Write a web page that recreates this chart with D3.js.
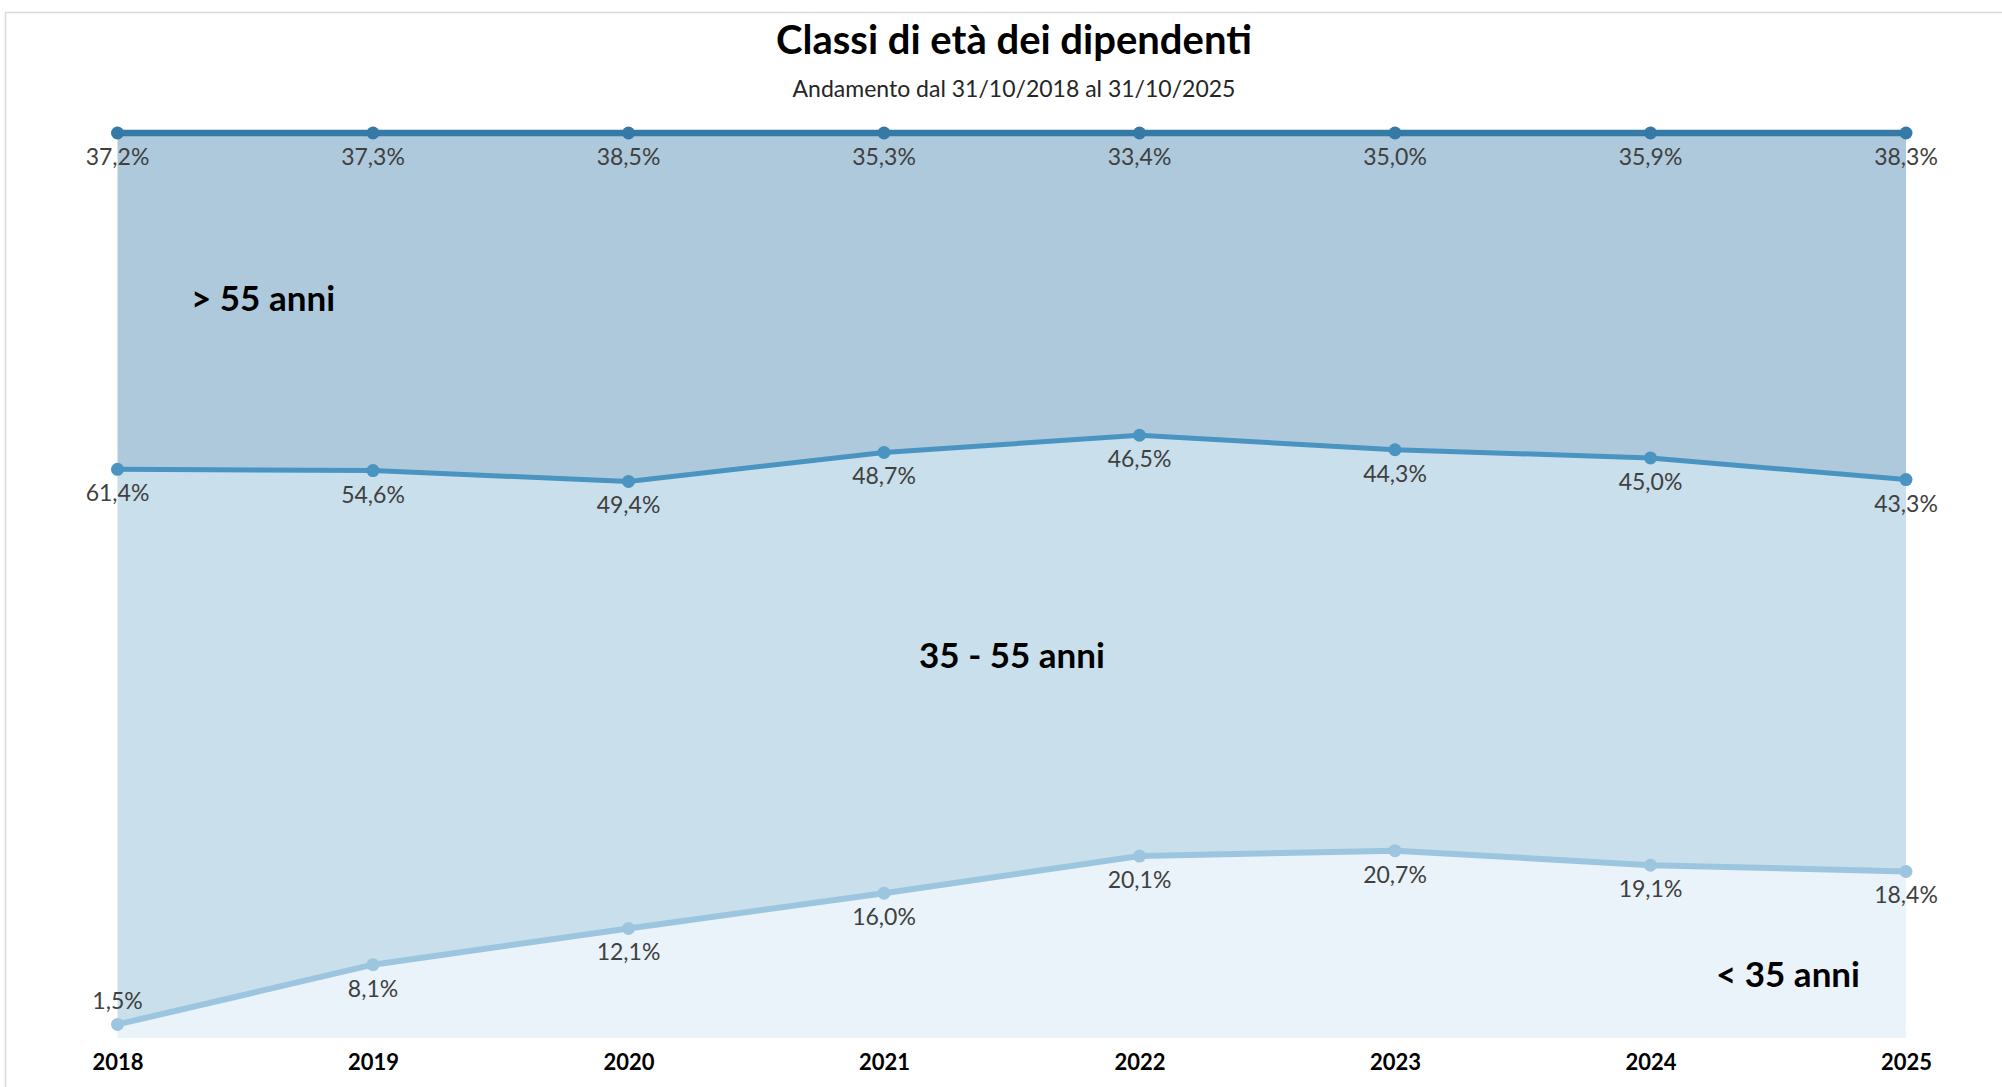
<!doctype html>
<html>
<head>
    <meta charset="UTF-8">
    <title>Classi di età dei dipendenti</title>
    <script src="https://d3js.org/d3.v7.min.js"></script>
    <style>
        body { margin: 0; background: #fff; }
        svg { display: block; font-family: Lato, "Open Sans", sans-serif; }
    </style>
</head>
<body>
<svg width="2002" height="1087"></svg>
<script>
    // dati (percentuali)
    var years = [2018, 2019, 2020, 2021, 2022, 2023, 2024, 2025];
    var under35 = [1.5, 8.1, 12.1, 16.0, 20.1, 20.7, 19.1, 18.4];
    var from35to55 = [61.4, 54.6, 49.4, 48.7, 46.5, 44.3, 45.0, 43.3];
    var over55 = [37.2, 37.3, 38.5, 35.3, 33.4, 35.0, 35.9, 38.3];
    var keys = ["under35", "from35to55", "over55"];
    var areaNames = ["< 35 anni", "35 - 55 anni", "> 55 anni"];

    var fills = { under35: "#eaf3f9", from35to55: "#c9dfeb", over55: "#aec9db" };
    var strokes = { under35: "#9cc6df", from35to55: "#4a94c1", over55: "#3579a6" };
    var widths = { under35: 6, from35to55: 5, over55: 6.5 };

    var rows = years.map(function (y, i) {
        return { year: y, under35: under35[i], from35to55: from35to55[i], over55: over55[i] };
    });

    var svg = d3.select("svg");

    // cornice
    svg.append("rect")
        .attr("x", 5.5).attr("y", 12.5)
        .attr("width", 2100).attr("height", 1200)
        .attr("fill", "none").attr("stroke", "#d9d9d9").attr("stroke-width", 1.5);

    var x = d3.scalePoint().domain(years).range([117.5, 1906]);
    var y = d3.scaleLinear().domain([0, 1]).range([1038, 133]);
    var bottom = y(0);

    // area in pila al 100%
    var stack = d3.stack().keys(keys).offset(d3.stackOffsetExpand);
    var series = stack(rows);

    var area = d3.area()
        .x(function (d) { return x(d.data.year); })
        .y0(function (d) { return y(d[0]); })
        .y1(function (d) { return y(d[1]); });

    var line = d3.line()
        .x(function (d) { return x(d.data.year); })
        .y(function (d) { return y(d[1]); });

    svg.append("g").selectAll("path")
        .data(series).enter().append("path")
        .attr("d", area)
        .attr("fill", function (s) { return fills[s.key]; });

    svg.append("g").selectAll("path")
        .data(series).enter().append("path")
        .attr("d", line)
        .attr("fill", "none")
        .attr("stroke", function (s) { return strokes[s.key]; })
        .attr("stroke-width", function (s) { return widths[s.key]; });

    var groups = svg.append("g").selectAll("g")
        .data(series).enter().append("g");

    groups.selectAll("circle")
        .data(function (s) { return s.map(function (d) { return { key: s.key, d: d }; }); })
        .enter().append("circle")
        .attr("cx", function (p) { return x(p.d.data.year); })
        .attr("cy", function (p) { return y(p.d[1]); })
        .attr("r", 6.5)
        .attr("fill", function (p) { return strokes[p.key]; });

    function fmt(v) {
        return v.toFixed(1).replace(".", ",") + "%";
    }

    groups.selectAll("text")
        .data(function (s) { return s.map(function (d) { return { key: s.key, d: d }; }); })
        .enter().append("text")
        .attr("x", function (p) { return x(p.d.data.year); })
        .attr("y", function (p) {
            var py = y(p.d[1]);
            if (py + 32 > bottom) return py - 15;
            return py + 32;
        })
        .attr("text-anchor", "middle")
        .attr("font-size", "23px")
        .attr("fill", "#404040")
        .text(function (p) { return fmt(p.d.data[p.key]); });

    // asse x
    var axis = svg.append("g")
        .attr("transform", "translate(0," + bottom + ")")
        .call(d3.axisBottom(x).tickSize(0).tickPadding(16));
    axis.select(".domain").remove();
    axis.selectAll("text")
        .attr("font-family", "Lato, 'Open Sans', sans-serif")
        .attr("font-size", "22px")
        .attr("font-weight", "bold")
        .attr("fill", "#000");

    // etichette delle fasce
    var bandLabels = [
        { text: areaNames[2], x: 191, y: 311, anchor: "start" },
        { text: areaNames[1], x: 1012, y: 668, anchor: "middle" },
        { text: areaNames[0], x: 1860, y: 987, anchor: "end" }
    ];
    svg.append("g").selectAll("text")
        .data(bandLabels).enter().append("text")
        .attr("x", function (d) { return d.x; })
        .attr("y", function (d) { return d.y; })
        .attr("text-anchor", function (d) { return d.anchor; })
        .attr("font-size", "35px")
        .attr("font-weight", "bold")
        .attr("fill", "#000")
        .text(function (d) { return d.text; });

    // titolo
    svg.append("text")
        .attr("x", 1014).attr("y", 54)
        .attr("text-anchor", "middle")
        .attr("font-size", "40px").attr("font-weight", "bold")
        .attr("fill", "#000")
        .text("Classi di età dei dipendenti");

    svg.append("text")
        .attr("x", 1014).attr("y", 97)
        .attr("text-anchor", "middle")
        .attr("font-size", "23px")
        .attr("fill", "#262626")
        .text("Andamento dal 31/10/2018 al 31/10/2025");
</script>
</body>
</html>
